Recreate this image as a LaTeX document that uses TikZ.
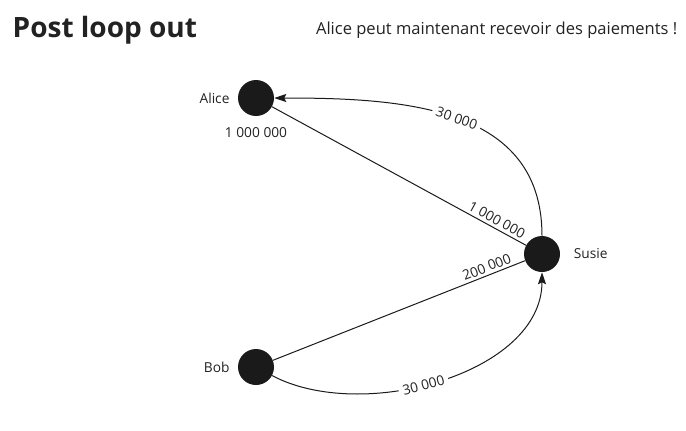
\documentclass[tikz,border=0pt]{standalone}
\usepackage{fontspec}
\setmainfont{Open Sans}
\usepackage{tikz}
\usetikzlibrary{arrows.meta}
\definecolor{n1}{HTML}{1A1A1A}
\definecolor{t1}{HTML}{222222}

\tikzset{
  peer/.style={circle, fill=n1, minimum size=27pt, inner sep=0pt},
  chan/.style={n1, line width=0.75pt},
  pay/.style={n1, line width=0.75pt, -{Stealth[length=9pt, width=6pt, inset=1.5pt]}},
  amt/.style={font=\fontsize{10.3}{12}\selectfont, text=t1, inner sep=1pt},
}

\begin{document}
\begin{tikzpicture}[x=0.75pt, y=-0.75pt]
\useasboundingbox (0,0) rectangle (686,430);

\node[anchor=west, font=\fontsize{21}{24}\selectfont\bfseries, text=t1] (title) at (8,30) {Post loop out};
\node[anchor=east, font=\fontsize{12.4}{15}\selectfont, text=t1] (note) at (682,30) {Alice peut maintenant recevoir des paiements !};

\node[peer] (alice) at (256,98) {};
\node[peer] (susie) at (542,254) {};
\node[peer] (bob) at (256,367) {};

\node[amt, left=5pt] at (alice.west) {Alice};
\node[amt, right=9pt] at (susie.east) {Susie};
\node[amt, left=5pt] at (bob.west) {Bob};
\node[amt] (abal) at (256,133) {1 000 000};

\draw[chan] (alice) -- node[amt, sloped, above=1pt, pos=0.87] {1 000 000} (susie);
\draw[chan] (bob) -- node[amt, sloped, above=1pt, pos=0.86] {200 000} (susie);

\draw[pay] (susie) to[out=90, in=0, looseness=1.1] node[amt, sloped, fill=white, pos=0.5, inner sep=3pt] {30 000} (alice);
\draw[pay] (bob) to[out=-28, in=-90, looseness=0.9] node[amt, sloped, fill=white, pos=0.45, inner sep=3pt] {30 000} (susie);
\end{tikzpicture}
\end{document}
